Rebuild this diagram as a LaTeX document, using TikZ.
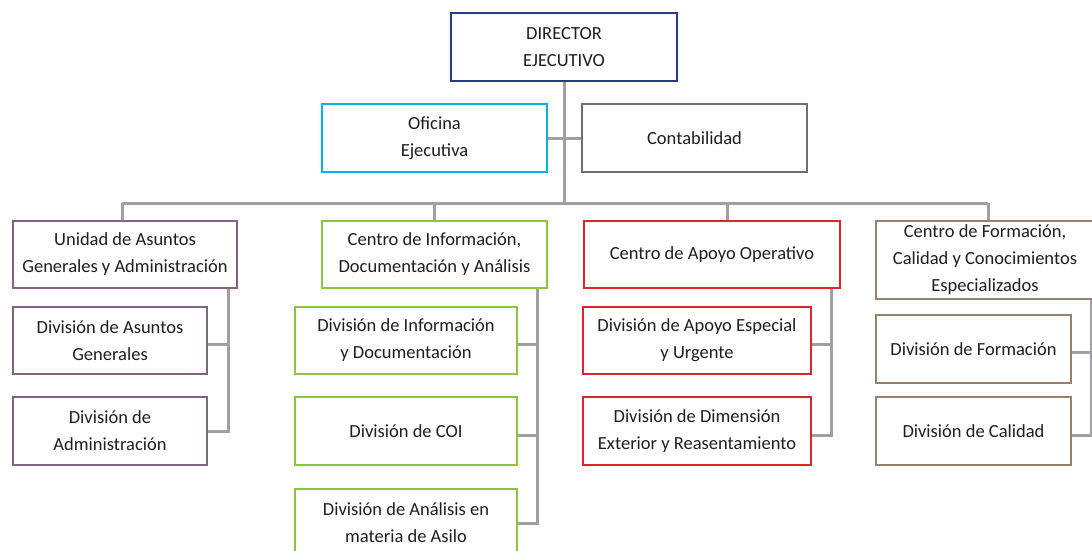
\documentclass[tikz,border=0pt]{standalone}
\usepackage{fontspec}
\setmainfont{Carlito}
\definecolor{cdir}{RGB}{41,57,142}
\definecolor{ccyan}{RGB}{0,176,240}
\definecolor{cgray}{RGB}{110,110,110}
\definecolor{cpurp}{RGB}{128,100,130}
\definecolor{cgreen}{RGB}{140,198,63}
\definecolor{cred}{RGB}{220,38,46}
\definecolor{cbrown}{RGB}{148,130,108}
\definecolor{cconn}{RGB}{160,160,164}
\definecolor{ctext}{RGB}{30,30,30}
\begin{document}
\begin{tikzpicture}[x=1pt,y=-1pt,
  box/.style={draw=#1,line width=2.6pt,rectangle,align=center,fill=white,
    text=ctext,font=\fontsize{18.5}{27}\selectfont,inner sep=0pt},
  conn/.style={draw=cconn,line width=3pt}]
\useasboundingbox[fill=white] (0,0) rectangle (1092,550);
\coordinate (bl) at (122,203);
\coordinate (br) at (988,203);
\coordinate (dcao) at (727,203);
% top nodes
\node[box=cdir,minimum width=226pt,minimum height=68pt] (dir) at (564,47) {DIRECTOR\\EJECUTIVO};
\node[box=ccyan,minimum width=225pt,minimum height=68pt] (ofi) at (434.5,138) {Oficina\\Ejecutiva};
\node[box=cgray,minimum width=225pt,minimum height=68pt] (cont) at (694.5,138) {Contabilidad};
% connectors
\draw[conn] (dir.south) -- (dir.south |- bl);
\draw[conn] (ofi.east) -- (cont.west);
\draw[conn] (bl) -- (br);
\draw[conn] (bl) -- ++(0,18);
\draw[conn] (434,203) -- (434,221);
\draw[conn] (dcao) -- ++(0,18);
\draw[conn] (br) -- ++(0,18);
% spines
\draw[conn] (228,288) |- (110,431);
\draw[conn] (228,344) -- (110,344);
\draw[conn] (537,288) |- (406,523);
\draw[conn] (537,344) -- (406,344);
\draw[conn] (537,435) -- (406,435);
\draw[conn] (831,288) |- (697,435);
\draw[conn] (831,344) -- (697,344);
\draw[conn] (1091,299) |- (973,435);
\draw[conn] (1091,352) -- (973,352);
% level 2 and 3 boxes
\node[box=cpurp,minimum width=224pt,minimum height=67pt] (uga) at (125,254.5) {Unidad de Asuntos\\Generales y Administración};
\node[box=cpurp,minimum width=194pt,minimum height=67pt] (dag) at (110,340.5) {División de Asuntos\\Generales};
\node[box=cpurp,minimum width=194pt,minimum height=68pt] (dad) at (110,431) {División de\\Administración};
\node[box=cgreen,minimum width=225pt,minimum height=67pt] (cida) at (434.5,254.5) {Centro de Información,\\Documentación y Análisis};
\node[box=cgreen,minimum width=222pt,minimum height=67pt] (did) at (406,340.5) {División de Información\\y Documentación};
\node[box=cgreen,minimum width=222pt,minimum height=68pt] (dcoi) at (406,431) {División de COI};
\node[box=cgreen,minimum width=222pt,minimum height=68pt] (dan) at (406,523) {División de Análisis en\\materia de Asilo};
\node[box=cred,minimum width=256pt,minimum height=67pt] (cao) at (712,254.5) {Centro de Apoyo Operativo};
\node[box=cred,minimum width=228pt,minimum height=67pt] (dae) at (697,340.5) {División de Apoyo Especial\\y Urgente};
\node[box=cred,minimum width=228pt,minimum height=68pt] (dde) at (697,431) {División de Dimensión\\Exterior y Reasentamiento};
\node[box=cbrown,minimum width=218pt,minimum height=78pt] (cfc) at (985,260) {Centro de Formación,\\Calidad y Conocimientos\\Especializados};
\node[box=cbrown,minimum width=195pt,minimum height=68pt] (dfo) at (973.5,349) {División de Formación};
\node[box=cbrown,minimum width=195pt,minimum height=68pt] (dca) at (973.5,431) {División de Calidad};
\end{tikzpicture}
\end{document}
